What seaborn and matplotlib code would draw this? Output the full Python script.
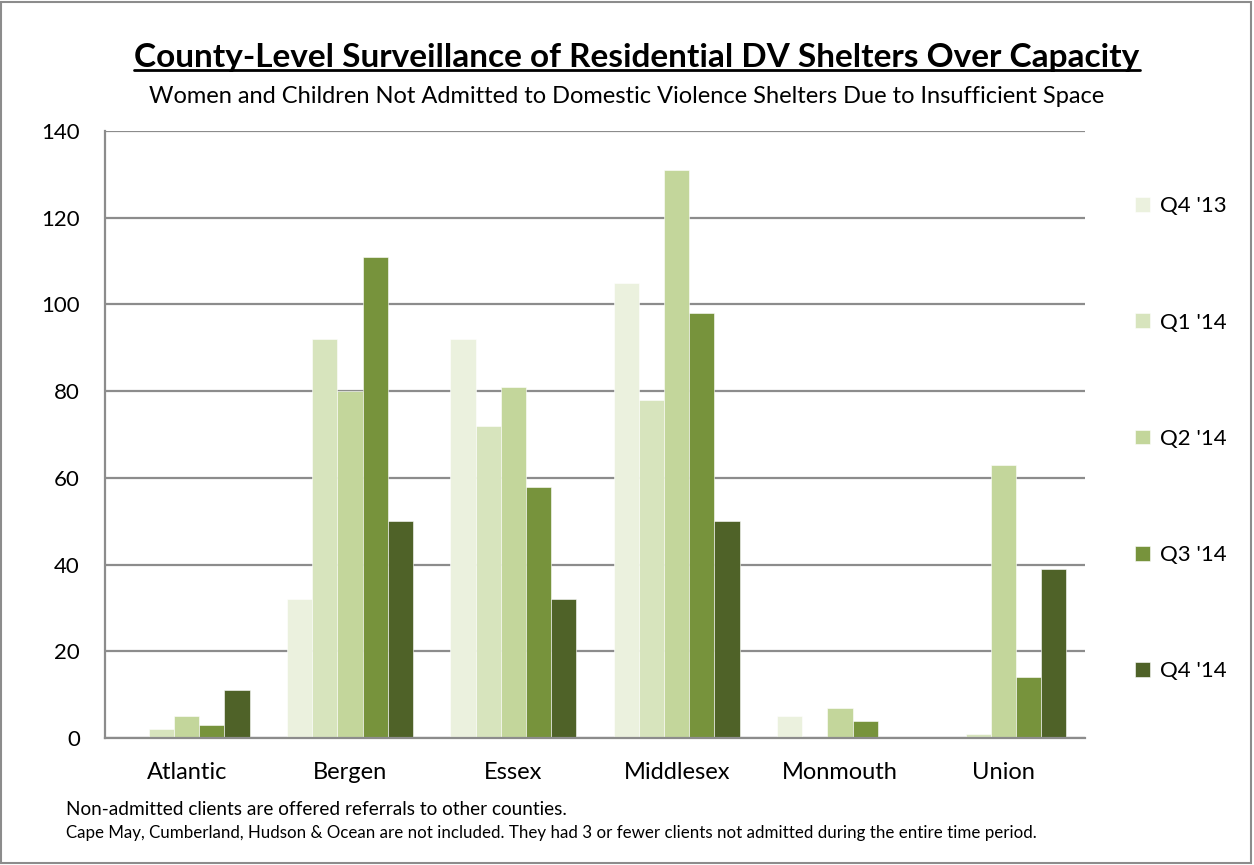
import pandas as pd
import matplotlib.pyplot as plt
import seaborn as sns
from matplotlib.lines import Line2D
from matplotlib.patches import Rectangle

counties = ['Atlantic', 'Bergen', 'Essex', 'Middlesex', 'Monmouth', 'Union']
quarters = ["Q4 '13", "Q1 '14", "Q2 '14", "Q3 '14", "Q4 '14"]
q4_13 = [0, 32, 92, 105, 5, 0]
q1_14 = [2, 92, 72, 78, 0, 1]
q2_14 = [5, 80, 81, 131, 7, 63]
q3_14 = [3, 111, 58, 98, 4, 14]
q4_14 = [11, 50, 32, 50, 0, 39]
colors = ['#EBF1DE', '#D7E4BD', '#C3D69B', '#77933C', '#4F6228']

rows = []
for q, vals in zip(quarters, [q4_13, q1_14, q2_14, q3_14, q4_14]):
    for c, v in zip(counties, vals):
        rows.append({'county': c, 'quarter': q, 'count': v})
df = pd.DataFrame(rows)

sns.set_style('white')
plt.rcParams['font.family'] = ['Lato', 'DejaVu Sans']
plt.rcParams['text.color'] = 'black'

fig = plt.figure(figsize=(12.54, 8.65), dpi=100)
ax = fig.add_axes([0.0837, 0.1468, 0.7815, 0.7018])

sns.barplot(data=df, x='county', y='count', hue='quarter', order=counties,
            hue_order=quarters, palette=colors, width=0.77, ax=ax,
            edgecolor='white', linewidth=0.4, errorbar=None, saturation=1)

ax.set_ylim(0, 140)
ax.set_yticks(range(0, 141, 20))
ax.yaxis.grid(True, color='#8c8c8c', linewidth=1.6)
ax.set_axisbelow(True)
for s in ['top', 'right']:
    ax.spines[s].set_visible(False)
for s in ['left', 'bottom']:
    ax.spines[s].set_color('#8c8c8c')
    ax.spines[s].set_linewidth(1.6)
ax.tick_params(axis='y', length=0, pad=18, labelsize=16, labelcolor='black')
ax.tick_params(axis='x', length=0, pad=17, labelsize=17, labelcolor='black')
ax.set_xlabel('')
ax.set_ylabel('')

handles, labels = ax.get_legend_handles_labels()
leg = ax.legend(handles, labels, loc='center left', bbox_to_anchor=(1.04, 0.493),
                frameon=False, fontsize=16, labelspacing=4.33, handlelength=0.65,
                handleheight=0.65, handletextpad=0.45, borderpad=0)
for t in leg.get_texts():
    t.set_color('black')

title = fig.text(0.508, 0.934, 'County-Level Surveillance of Residential DV Shelters Over Capacity',
                 ha='center', va='center', fontsize=24, fontweight='bold')
fig.text(0.5, 0.889, 'Women and Children Not Admitted to Domestic Violence Shelters Due to Insufficient Space',
         ha='center', va='center', fontsize=17)
fig.text(0.053, 0.064, 'Non-admitted clients are offered referrals to other counties.',
         ha='left', va='center', fontsize=13.7)
fig.text(0.053, 0.037, 'Cape May, Cumberland, Hudson & Ocean are not included. They had 3 or fewer clients not admitted during the entire time period.',
         ha='left', va='center', fontsize=12.2)

# underline the title
fig.canvas.draw()
bb = title.get_window_extent().transformed(fig.transFigure.inverted())
fig.add_artist(Line2D([bb.x0, bb.x1], [bb.y0 + 0.002, bb.y0 + 0.002],
                      transform=fig.transFigure, color='black', linewidth=2))

fig.add_artist(Rectangle((0.001, 0.002), 0.997, 0.996, transform=fig.transFigure,
                         fill=False, edgecolor='#8c8c8c', linewidth=1.5))

fig.savefig('out.png', dpi=100)
